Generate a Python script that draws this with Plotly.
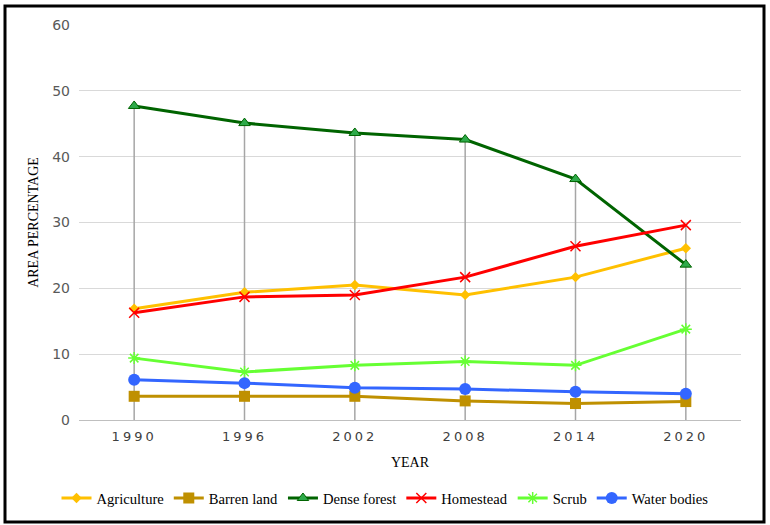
import plotly.graph_objects as go

years = ["1990", "1996", "2002", "2008", "2014", "2020"]
agriculture = [16.9, 19.4, 20.5, 19.0, 21.7, 26.1]
barren_land = [3.6, 3.6, 3.6, 2.9, 2.5, 2.8]
dense_forest = [47.7, 45.1, 43.6, 42.6, 36.6, 23.6]
homestead = [16.3, 18.7, 19.0, 21.7, 26.4, 29.6]
scrub = [9.4, 7.3, 8.3, 8.9, 8.3, 13.8]
water_bodies = [6.1, 5.6, 4.9, 4.7, 4.3, 4.0]

series = [
    ("Agriculture", agriculture, "#FFC000", dict(symbol="diamond", size=8, color="#FFC000")),
    ("Barren land", barren_land, "#BF9000", dict(symbol="square", size=11, color="#BF9000")),
    ("Dense forest", dense_forest, "#006400", dict(symbol="triangle-up", size=10, color="#2EAA4A",
                                                     line=dict(color="#006400", width=1))),
    ("Homestead", homestead, "#FF0000", dict(symbol="x-thin-open", size=10, color="#FF0000",
                                            line=dict(color="#FF0000", width=1.5))),
    ("Scrub", scrub, "#66FF33", dict(symbol="asterisk-open", size=10, color="#66FF33",
                                     line=dict(color="#66FF33", width=1.5))),
    ("Water bodies", water_bodies, "#3366FF", dict(symbol="circle", size=12, color="#3366FF")),
]

fig = go.Figure()

# drop lines from max value to 0 at each category
all_vals = [agriculture, barren_land, dense_forest, homestead, scrub, water_bodies]
dx, dy = [], []
for i, yr in enumerate(years):
    m = max(v[i] for v in all_vals)
    dx += [yr, yr, None]
    dy += [0, m, None]
fig.add_trace(go.Scatter(x=dx, y=dy, mode="lines", line=dict(color="#A6A6A6", width=1.5),
                         showlegend=False, hoverinfo="skip"))

for name, vals, col, mk in series:
    fig.add_trace(go.Scatter(x=years, y=vals, name=name, mode="lines+markers",
                             line=dict(color=col, width=3), marker=mk))

W, H = 770, 525
ml, mr, mt, mb = 79, 29, 25, 105
pw, ph = W - ml - mr, H - mt - mb
def px(x): return (x - ml) / pw
def py(y): return (H - mb - y) / ph

fig.add_shape(type="rect", xref="paper", yref="paper",
              x0=px(5), x1=px(764), y0=py(522), y1=py(6),
              line=dict(color="#000000", width=3), fillcolor="rgba(0,0,0,0)", layer="above")

fig.update_layout(
    width=W, height=H,
    margin=dict(l=ml, r=mr, t=mt, b=mb, autoexpand=False),
    paper_bgcolor="white", plot_bgcolor="white",
    font=dict(family="Liberation Serif", color="#000000"),
    xaxis=dict(type="category", range=[-0.5, 5.5], showgrid=False,
               showline=True, linecolor="#BFBFBF", linewidth=1,
               tickfont=dict(family="DejaVu Sans", size=13, color="#404040"),
               ticks="", ticklabelstandoff=4,
               title=dict(text="YEAR", font=dict(family="Liberation Serif", size=14, color="#000000"),
                          standoff=14)),
    yaxis=dict(range=[0, 60], dtick=10, showgrid=True, gridcolor="#D9D9D9", gridwidth=1,
               zeroline=False, showline=False,
               tickfont=dict(family="DejaVu Sans", size=14, color="#595959"),
               ticks="", ticklabelstandoff=8,
               title=dict(text="AREA PERCENTAGE", font=dict(family="Liberation Serif", size=14, color="#000000"),
                          standoff=10)),
    legend=dict(orientation="h", xref="container", yref="container",
                x=0.5, xanchor="center", y=(H - 498) / H, yanchor="middle",
                font=dict(family="Liberation Serif", size=14.6, color="#000000"),
                bgcolor="rgba(0,0,0,0)", itemwidth=30, tracegroupgap=0),
    showlegend=True,
)

post = """
document.body.style.margin = '0';
var st = document.createElement('style');
st.textContent = '.xtick text { letter-spacing: 3px; }';
document.head.appendChild(st);
"""
fig.write_html("out.html", post_script=post, config={"displayModeBar": False})
